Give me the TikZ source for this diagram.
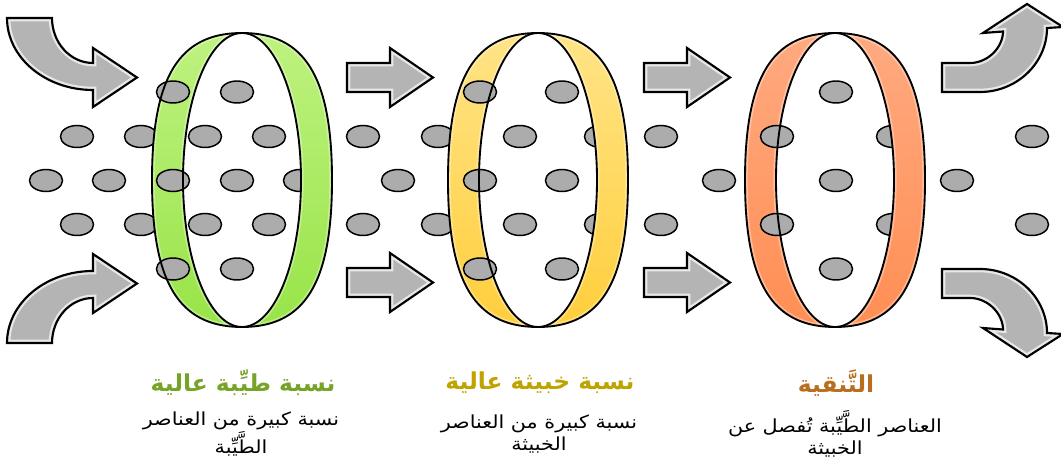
\documentclass[tikz,border=0pt]{standalone}
\usepackage{fontspec}
\newfontfamily\arabicfont[Script=Arabic]{DejaVu Sans}
\TeXXeTstate=1
\definecolor{ringGtop}{RGB}{190,242,128}
\definecolor{ringGbot}{RGB}{152,228,72}
\definecolor{ringYtop}{RGB}{255,228,135}
\definecolor{ringYbot}{RGB}{255,206,60}
\definecolor{ringOtop}{RGB}{255,170,128}
\definecolor{ringObot}{RGB}{255,142,84}
\definecolor{dotc}{RGB}{172,172,172}
\definecolor{dotrim}{RGB}{232,232,232}
\definecolor{arrowc}{RGB}{180,180,180}
\definecolor{tgreen}{RGB}{118,163,40}
\definecolor{tgold}{RGB}{191,164,0}
\definecolor{tbrown}{RGB}{184,110,30}
\pgfdeclareradialshading{dotsh}{\pgfpoint{0bp}{0bp}}{color(0bp)=(dotc); color(30bp)=(dotc); color(50bp)=(dotrim)}
\tikzset{
  dotst/.style={shading=dotsh, draw=black, line width=1.1pt},
  ringline/.style={draw=black, line width=1.4pt},
  arrfill/.style={fill=arrowc},
  arrglow/.style={draw=white!70!arrowc, line width=5pt},
  arrline/.style={draw=black, line width=1.6pt, line join=miter},
  titletext/.style={font=\arabicfont\bfseries\fontsize{17.5}{20}\selectfont, anchor=center, inner sep=0pt},
  bodytext/.style={font=\arabicfont\fontsize{13.5}{16.5}\selectfont, align=center, anchor=center, text=black, inner sep=0pt}
}
\newcommand\wl[1]{\scalebox{1.15}[1]{\beginR #1\endR}}
\newcommand\outerp[1]{(#1,33) .. controls (#1-63,33) and (#1-90,77) .. (#1-90,180) .. controls (#1-90,283) and (#1-63,327) .. (#1,327) .. controls (#1+63,327) and (#1+90,283) .. (#1+90,180) .. controls (#1+90,77) and (#1+63,33) .. (#1,33) -- cycle}
\newcommand\lensp[1]{(#1,33) .. controls (#1-32.6,33) and (#1-59,98.9) .. (#1-59,180) .. controls (#1-59,261.1) and (#1-32.6,327) .. (#1,327) .. controls (#1+32.6,327) and (#1+59,261.1) .. (#1+59,180) .. controls (#1+59,98.9) and (#1+32.6,33) .. (#1,33) -- cycle}
\newcommand\ringfill[3]{%
  \shade[top color=#2, bottom color=#3, even odd rule] \outerp{#1} \lensp{#1};
  \begin{scope}[even odd rule]
    \clip \outerp{#1} \lensp{#1};
    \draw[white, opacity=0.35, line width=4pt] \outerp{#1};
    \draw[white, opacity=0.35, line width=4pt] \lensp{#1};
  \end{scope}}
\newcommand\ringlines[1]{\draw[ringline] \outerp{#1}; \draw[ringline] \lensp{#1};}
\newcommand\dotat[2]{\shadedraw[dotst] (#1,#2) ellipse [x radius=12.4pt, y radius=8.25pt];}
\newcommand\arrowshape[1]{%
  \fill[arrfill] #1;
  \begin{scope}\clip #1; \draw[arrglow] #1; \end{scope}
  \draw[arrline] #1;}
\newcommand\pTL{(7,18) -- (52,18) .. controls (52,42.8) and (70.4,63) .. (93,63) -- (93,48) -- (137,77.5) -- (93,107) -- (93,90) .. controls (45.5,90) and (7,57.7) .. (7,18) -- cycle}
\newcommand\pBL{(7,343) -- (52,343) .. controls (52,318.2) and (70.4,298) .. (93,298) -- (93,313) -- (137,283.5) -- (93,254) -- (93,271) .. controls (45.5,271) and (7,303.3) .. (7,343) -- cycle}
\newcommand\pST[2]{(#1,#2) -- (#1+43,#2) -- (#1+43,#2-15) -- (#1+86,#2+14.5) -- (#1+43,#2+44) -- (#1+43,#2+29) -- (#1,#2+29) -- cycle}
\newcommand\pTR{(942,63) -- (970,63) .. controls (988.2,63) and (1003,47) .. (1003,31.5) -- (983,33) -- (1027,4) -- (1063,27) -- (1047,28) .. controls (1047,63) and (1017,92) .. (980,92) -- (942,92) -- cycle}
\newcommand\pBR{(942,298) -- (970,298) .. controls (988.2,298) and (1003,314) .. (1003,329.5) -- (983,328) -- (1027,357) -- (1063,334) -- (1047,333) .. controls (1047,298) and (1017,269) .. (980,269) -- (942,269) -- cycle}
\begin{document}
\begin{tikzpicture}[x=0.75pt, y=-0.75pt]
\useasboundingbox (0,0) rectangle (1061,459);
\fill[white] (0,0) rectangle (1061,459);
\begin{scope}
\clip (0,0) rectangle (1061,459);
% arrows
\arrowshape{\pTL}
\arrowshape{\pBL}
\arrowshape{\pST{347}{63}}
\arrowshape{\pST{347}{268}}
\arrowshape{\pST{644}{63}}
\arrowshape{\pST{644}{268}}
\arrowshape{\pTR}
\arrowshape{\pBR}
% dots behind the rings
\dotat{300}{180.5}
\dotat{601}{136.5}\dotat{601}{224.5}
\dotat{893}{136.5}\dotat{893}{224.5}
\dotat{141}{136.5}\dotat{141}{224.5}
\dotat{438}{136.5}\dotat{438}{224.5}
% ring bands
\ringfill{242}{ringGtop}{ringGbot}
\ringfill{538}{ringYtop}{ringYbot}
\ringfill{835}{ringOtop}{ringObot}
% dots in front
\dotat{173}{92}\dotat{237}{92}
\dotat{77}{136.5}\dotat{205}{136.5}\dotat{269}{136.5}
\dotat{46}{180.5}\dotat{109}{180.5}\dotat{173}{180.5}\dotat{237}{180.5}
\dotat{77}{224.5}\dotat{205}{224.5}\dotat{269}{224.5}
\dotat{173}{269}\dotat{237}{269}
\dotat{480}{92}\dotat{562}{92}
\dotat{363}{136.5}\dotat{520}{136.5}
\dotat{398}{180.5}\dotat{480}{180.5}\dotat{562}{180.5}
\dotat{363}{224.5}\dotat{520}{224.5}
\dotat{480}{269}\dotat{562}{269}
\dotat{836}{92}
\dotat{661}{136.5}\dotat{777}{136.5}\dotat{1032}{136.5}
\dotat{719}{180.5}\dotat{836}{180.5}\dotat{957}{180.5}
\dotat{661}{224.5}\dotat{777}{224.5}\dotat{1032}{224.5}
\dotat{836}{269}
% ring outlines
\ringlines{242}
\ringlines{538}
\ringlines{835}
\end{scope}
% texts
\node[titletext, text=tgreen] (t1) at (243,383) {\beginR نسبة طيِّبة عالية\endR};
\node[titletext, text=tgold] (t2) at (540,383) {\beginR نسبة خبيثة عالية\endR};
\node[titletext, text=tbrown] (t3) at (836,383) {\beginR التَّنقية\endR};
\node[bodytext] (b1) at (241,434) {\wl{نسبة كبيرة من العناصر}\\\wl{الطَّيِّبة}};
\node[bodytext] (b2) at (539,434) {\wl{نسبة كبيرة من العناصر}\\\wl{الخبيثة}};
\node[bodytext] (b3) at (835,434) {\wl{العناصر الطَّيِّبة تُفصل عن}\\\wl{الخبيثة}};
\end{tikzpicture}
\end{document}
